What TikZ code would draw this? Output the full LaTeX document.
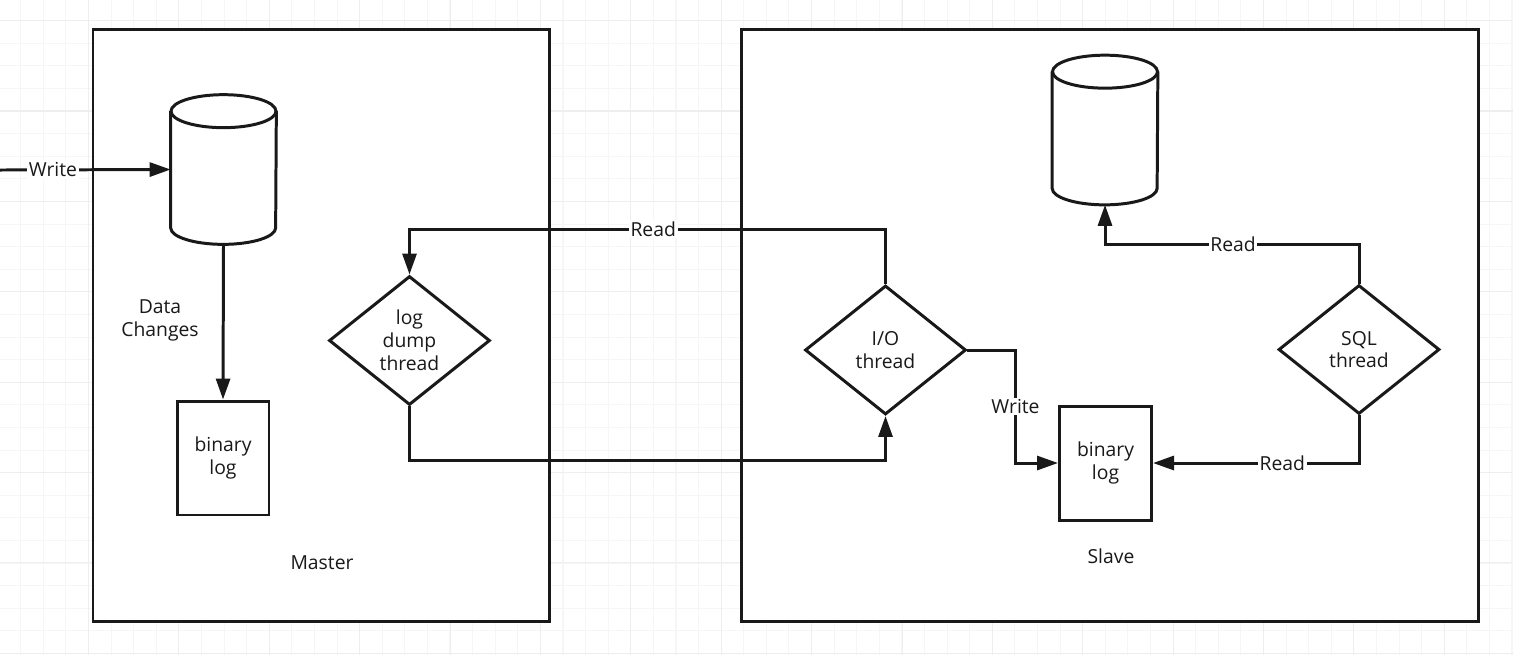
\documentclass[tikz,border=0pt]{standalone}
\usepackage{fontspec}
\setsansfont{Open Sans}
\usetikzlibrary{calc,shapes.geometric,arrows.meta}

\begin{document}
\begin{tikzpicture}[x=0.02cm,y=0.02cm]\sffamily
\useasboundingbox (0,0) rectangle (1513,-654);
\clip (0,0) rectangle (1513,-654);

% Styles for the text, the wires and the shapes
\tikzstyle{txt}=[font=\fontsize{11}{13}\selectfont, text=gray!20!black, align=center]
\tikzstyle{wire}=[draw=gray!20!black, line width=1.7pt]
\tikzstyle{arr}=[wire, -{Triangle[length=0.42cm,width=0.28cm]}]
\tikzstyle{onwire}=[txt, fill=white, inner sep=1pt]
\tikzstyle{thread}=[diamond, wire, fill=white, minimum width=3.22cm, minimum height=2.58cm, inner sep=0pt, txt]
\tikzstyle{logbox}=[rectangle, wire, fill=white, minimum width=1.84cm, minimum height=2.28cm, txt]
\tikzstyle{dbframe}=[rectangle, minimum width=2.1cm, minimum height=2.98cm, inner sep=0pt]

% Grid in the background: fine lines, then every fourth line a bit darker
\begin{scope}[shift={(20.7,-20.7)}]
\draw[step=0.452cm, gray!7, line width=0.6pt] (-40,40) grid (1520,-660);
\end{scope}
\begin{scope}[shift={(-1.8,-20.6)}]
\draw[step=1.808cm, gray!13, line width=0.6pt] (-10,40) grid (1540,-660);
\end{scope}

% The two servers
\draw[wire, fill=white] (93,-29) rectangle (549,-621);
\draw[wire, fill=white] (741,-29) rectangle (1478,-621);

% A database drawn as a cylinder round a named (invisible) frame
\newcommand{\drawdb}[3]{
% #1 = name, #2, #3 = centre of the cylinder
\node[dbframe] (#1) at (#2,#3) {};
\draw[wire, fill=white] ($(#1.north)+(0,-16.5)$) ellipse [x radius=1.05cm, y radius=0.33cm];
\draw[wire] ($(#1.north west)+(0,-16.5)$) -- ($(#1.south west)+(0,16.5)$)
  arc[start angle=180, end angle=360, x radius=1.05cm, y radius=0.33cm]
  -- ($(#1.north east)+(0,-16.5)$);
} % End of `drawdb`

\drawdb{mdb}{223.5}{-169.5}
\drawdb{sdb}{1105}{-130}

% Master side
\coordinate (client) at (0,-170);
\node[logbox] (mlog) at (223,-458) {binary\\log};
\node[thread] (dump) at (409.5,-340.5) {log\\dump\\thread};
\node[txt] (chg) at (160,-320) {Data\\Changes};
\node[txt] (mname) at (322,-563) {Master};

% Slave side
\node[thread] (io) at (885.5,-350) {I/O\\thread};
\node[thread] (sql) at (1359,-349.5) {SQL\\thread};
\node[logbox] (slog) at (1105.5,-463) {binary\\log};
\node[txt] (sname) at (1111,-556) {Slave};

% Connectors
\draw[arr] (client) -- node[onwire, pos=0.31] {Write} (mdb.west);
\draw[arr] (mdb.south) -- (mlog.north);
\draw[arr] (io.north) -- ++(0,55) -| node[onwire, pos=0.244] {Read} (dump.north);
\draw[arr] (dump.south) -- ++(0,-54) -| (io.south);
\draw[arr] (io.east) -- ++(48,0) |- node[onwire, pos=0.25] {Write} (slog.west);
\draw[arr] (sql.north) -- ++(0,39) -| node[onwire, pos=0.248] {Read} (sdb.south);
\draw[arr] (sql.south) |- node[onwire, pos=0.686] {Read} (slog.east);

\end{tikzpicture}
\end{document}
